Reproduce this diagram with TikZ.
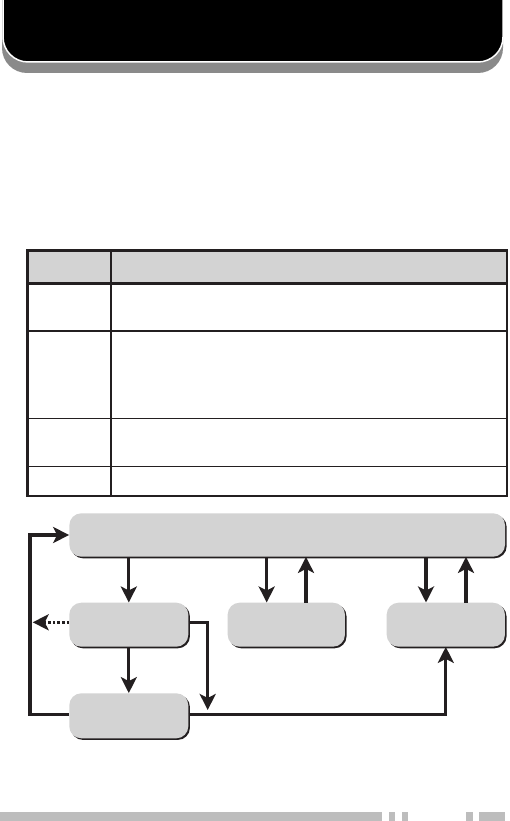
\documentclass[tikz,border=0pt]{standalone}
\usetikzlibrary{arrows.meta,shadows}
\definecolor{boxgray}{HTML}{D3D3D3}
\definecolor{ink}{HTML}{231F20}
\definecolor{hdshadow}{HTML}{8A8A8A}
\definecolor{bargray}{HTML}{BDBDBD}
\tikzset{
  flowbox/.style={draw=none, fill=boxgray, rounded corners=12pt, inner sep=0pt,
    drop shadow={shadow xshift=1.6pt, shadow yshift=-1.6pt, fill=ink, opacity=1}},
  arr/.style={draw=ink, line width=3.3pt, -{Stealth[length=16pt,width=16pt,inset=4pt]}},
  tabthick/.style={draw=ink, line width=2.6pt},
  tabthin/.style={draw=ink, line width=1.5pt},
}
\begin{document}
\begin{tikzpicture}[x=1pt,y=-1pt]
\useasboundingbox (0,0) rectangle (509,821);
% header banner
\fill[hdshadow, rounded corners=25pt] (2,-40) rectangle (503,73);
\filldraw[fill=black, draw=white, line width=1.5pt, rounded corners=25pt] (3,-40) rectangle (503,62);
% table
\fill[boxgray] (27.3,250.7) rectangle (507,283.3);
\draw[tabthin] (27.3,331) -- (507,331);
\draw[tabthin] (27.3,418.3) -- (507,418.3);
\draw[tabthin] (27.3,466.7) -- (507,466.7);
\draw[tabthin] (111,250.7) -- (111,496);
\draw[tabthick] (27.3,283.3) -- (507,283.3);
\draw[tabthick] (27.3,250.7) rectangle (507,496);
% flow boxes
\node[flowbox, minimum width=435.7pt, minimum height=43.4pt] (T) at (287.2,535) {};
\node[flowbox, minimum width=119pt, minimum height=44pt] (L) at (128.8,624.7) {};
\node[flowbox, minimum width=117.3pt, minimum height=44pt] (M) at (286.3,624.7) {};
\node[flowbox, minimum width=118.3pt, minimum height=44pt] (R) at (445.8,624.7) {};
\node[flowbox, minimum width=119pt, minimum height=45pt] (B) at (128.8,715.8) {};
% helper coordinates
\coordinate (m1) at ([xshift=-19.6pt]M.north);
\coordinate (m2) at ([xshift=19.7pt]M.north);
\coordinate (r1) at ([xshift=-19.8pt]R.north);
\coordinate (r2) at ([xshift=20.2pt]R.north);
\coordinate (lr) at (207.7,710);
\coordinate (bl) at (30,714.3);
\coordinate (dl) at (32.7,622.3);
% connectors
\draw[arr] (L.north |- T.south) -- (L.north);
\draw[arr] (m1 |- T.south) -- (m1);
\draw[arr] (m2) -- (m2 |- T.south);
\draw[arr] (r1 |- T.south) -- (r1);
\draw[arr] (r2) -- (r2 |- T.south);
\draw[arr] (L.south) -- (B.north);
\draw[arr] ([yshift=2.4pt]L.east) -| (lr);
\draw[arr] ([yshift=1.5pt]B.east) -| (R.south);
\draw[arr] ([yshift=1.5pt]B.west) -- (bl) |- (T.west);
\draw[arr, dash pattern=on 2.6pt off 2pt] ([yshift=2.4pt]L.west) -- (dl);
% bottom bar
\fill[bargray] (0,811.7) rectangle (381.7,820.7);
\fill[bargray] (389,811.7) rectangle (395,820.7);
\fill[bargray] (401.7,811.7) rectangle (407.7,820.7);
\fill[bargray] (466,811.7) rectangle (472.7,820.7);
\fill[bargray] (479,811.7) rectangle (505,820.7);
\end{tikzpicture}
\end{document}
